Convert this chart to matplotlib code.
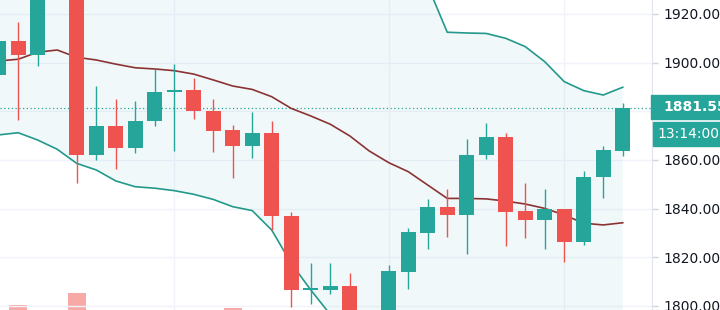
import matplotlib
matplotlib.use('Agg')
import matplotlib.pyplot as plt
from matplotlib.patches import Rectangle
import numpy as np

# OHLC per candle (oldest -> newest)
opens = [1894.9, 1909.0, 1903.1, 1935.0, 1944.0, 1862.0, 1874.1, 1865.1, 1876.0, 1887.8,
         1888.8, 1880.1, 1872.3, 1865.7, 1871.2, 1837.0, 1806.6, 1806.6, 1808.2, 1794.0,
         1792.0, 1814.1, 1830.1, 1840.6, 1837.4, 1862.0, 1869.6, 1839.0, 1835.3, 1839.7,
         1826.3, 1852.9, 1863.7]
highs = [1911.0, 1916.8, 1938.0, 1950.0, 1946.0, 1890.4, 1884.9, 1884.2, 1897.3, 1899.3,
         1893.6, 1885.2, 1874.3, 1879.8, 1876.1, 1838.7, 1817.5, 1817.8, 1813.7, 1797.0,
         1816.8, 1832.2, 1844.0, 1848.1, 1868.6, 1875.3, 1871.0, 1850.4, 1847.9, 1840.0,
         1855.5, 1865.9, 1883.3]
lows = [1893.0, 1876.4, 1898.6, 1930.0, 1850.4, 1860.0, 1856.2, 1862.7, 1874.0, 1863.8,
        1876.7, 1863.4, 1852.5, 1860.7, 1831.2, 1799.7, 1800.8, 1804.9, 1788.0, 1782.0,
        1788.0, 1806.8, 1823.3, 1828.5, 1821.4, 1860.3, 1824.6, 1827.8, 1823.4, 1818.2,
        1825.1, 1844.2, 1861.6]
closes = [1909.0, 1903.1, 1935.0, 1944.0, 1862.0, 1874.1, 1865.1, 1876.2, 1887.8, 1888.8,
          1880.1, 1872.0, 1865.7, 1871.2, 1837.0, 1806.6, 1807.0, 1808.2, 1794.0, 1790.0,
          1814.5, 1830.3, 1840.6, 1837.4, 1862.0, 1869.6, 1838.7, 1835.3, 1839.7, 1826.3,
          1853.1, 1864.1, 1881.55]
volumes = [30, 68, 45, 50, 87, 40, 35, 30, 38, 42, 30, 36, 63, 30, 50, 55, 30, 28, 45, 50,
           48, 40, 35, 30, 45, 30, 50, 30, 32, 40, 45, 35, 30]

# Bollinger bands
bb_mid = [1900.7, 1901.4, 1904.3, 1905.2, 1902.2, 1901.1, 1899.4, 1897.9, 1897.4, 1896.7,
          1895.3, 1892.9, 1890.4, 1889.0, 1886.0, 1881.2, 1878.1, 1874.7, 1869.9, 1863.7,
          1858.9, 1855.2, 1849.7, 1844.2, 1844.2, 1844.0, 1843.1, 1841.9, 1840.1, 1837.4,
          1834.0, 1833.3, 1834.2]
bb_upper = [1931.1, 1931.6, 1940.4, 1946.0, 1945.8, 1946.3, 1947.4, 1946.8, 1946.4, 1946.0,
            1944.7, 1942.0, 1940.0, 1938.3, 1939.4, 1944.9, 1949.4, 1952.9, 1950.0, 1946.0,
            1941.0, 1936.0, 1931.6, 1912.5, 1912.2, 1912.0, 1910.0, 1906.6, 1900.4, 1892.2,
            1888.5, 1886.7, 1889.9]
bb_lower = [1870.3, 1871.2, 1868.2, 1864.4, 1858.6, 1855.9, 1851.4, 1849.0, 1848.4, 1847.4,
            1845.9, 1843.8, 1840.8, 1839.2, 1831.2, 1817.5, 1806.6, 1796.5, 1789.8, 1781.4,
            1776.8, 1774.4, 1767.8, 1775.9, 1776.2, 1776.0, 1776.2, 1777.2, 1779.8, 1782.6,
            1779.5, 1779.9, 1778.5]

price_ticks = [1800, 1820, 1840, 1860, 1880, 1900, 1920]
last_price = 1881.55
time_left = '13:14:00'
vgrid_idx = [9, 20, 29]

UP = '#26a69a'
DOWN = '#ef5350'
TEXT = '#131722'
GRID = '#f0f3fa'

W, H = 720, 310
fig = plt.figure(figsize=(W / 100, H / 100), dpi=100)
fig.patch.set_facecolor('white')

ax = fig.add_axes([0, 0, 652 / W, 1])
x = np.arange(len(opens))

# volume on a twin axis, base sits below the visible area
axv = ax.twinx()
axv.set_ylim(60, 560)
colors = [UP if c >= o else DOWN for o, c in zip(opens, closes)]
vcolors = ['#a8dcd7' if c == UP else '#f7a9a7' for c in colors]
axv.bar(x, volumes, width=0.92, color=vcolors, linewidth=0, zorder=1)
axv.set_yticks([])
for s in axv.spines.values():
    s.set_visible(False)
ax.set_zorder(axv.get_zorder() + 1)
ax.patch.set_visible(False)

# grid
for p in price_ticks:
    ax.axhline(p, color=GRID, linewidth=1, zorder=0)
for v in vgrid_idx:
    ax.axvline(v, color=GRID, linewidth=1, zorder=0)

# bands
ax.fill_between(x, bb_lower, bb_upper, color='#2196a6', alpha=0.06, linewidth=0, zorder=0.5)
ax.plot(x, bb_upper, color='#22998b', linewidth=1.2, zorder=2)
ax.plot(x, bb_lower, color='#22998b', linewidth=1.2, zorder=2)
ax.plot(x, bb_mid, color='#8b3333', linewidth=1.2, zorder=2)

# candles
ax.vlines(x, lows, highs, colors=colors, linewidth=1, zorder=3)
bottoms = [min(o, c) for o, c in zip(opens, closes)]
heights = [max(abs(c - o), 0.7) for o, c in zip(opens, closes)]
ax.bar(x, heights, bottom=bottoms, width=0.78, color=colors, linewidth=0, zorder=4)

# last price line
ax.axhline(last_price, color=UP, linewidth=0.9, linestyle=(0, (1, 2)), zorder=1)

ax.set_xlim(0.067, 33.5)
ax.set_ylim(1798.34, 1925.75)
ax.set_xticks([])
ax.yaxis.tick_right()
ax.set_yticks(price_ticks)
# the 1880 label sits under the last-price badge
ax.set_yticklabels(['' if p == 1880 else f'{p:.2f}' for p in price_ticks])
ax.tick_params(axis='y', left=False, right=True, labelleft=False, labelright=True,
               length=4, width=1, color='#d1d4dc', pad=4, labelsize=10, labelcolor=TEXT)
for s in ['top', 'left', 'bottom']:
    ax.spines[s].set_visible(False)
ax.spines['right'].set_color('#e0e3eb')

# price badges
fig.patches.append(Rectangle((651 / W, (H - 119.3) / H), 69 / W, 24.3 / H,
                             transform=fig.transFigure, color=UP, zorder=5))
fig.patches.append(Rectangle((653 / W, (H - 145.7) / H), 67 / W, 24 / H,
                             transform=fig.transFigure, color=UP, zorder=5))
fig.text(663 / W, (H - 107.3) / H, f'{last_price:.2f}', color='white', fontsize=10,
         fontweight='bold', va='center', ha='left', zorder=6)
fig.text(657 / W, (H - 133.7) / H, time_left, color='white', fontsize=10,
         va='center', ha='left', zorder=6)

fig.savefig('out.png', dpi=100, facecolor='white')
